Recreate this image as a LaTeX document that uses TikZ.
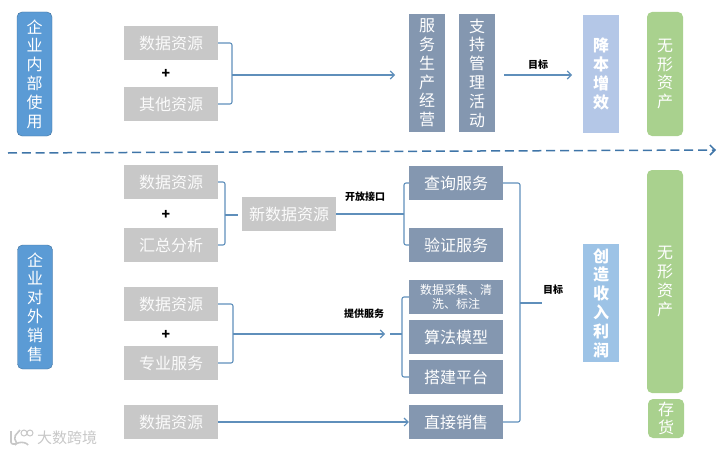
\documentclass[tikz,border=0pt]{standalone}
\usepackage{fontspec}
\setmainfont{Noto Sans CJK SC}
\usetikzlibrary{arrows.meta}
\definecolor{linkblue}{HTML}{5F8FBB}
\definecolor{dashblue}{HTML}{3F75A8}
\definecolor{srcgray}{HTML}{C8C8C8}
\definecolor{svcslate}{HTML}{8497B0}
\definecolor{sideblue}{HTML}{5B9BD5}
\definecolor{sideedge}{HTML}{41719C}
\definecolor{assetgreen}{HTML}{A9D18E}
\definecolor{goalpale}{HTML}{B4C7E7}
\definecolor{goalblue}{HTML}{9DC3E6}
\tikzset{
	bigtext/.style={font=\fontsize{16}{18.8}\selectfont, text=white, align=center, inner sep=0pt},
	srcbox/.style={bigtext, fill=srcgray, text=white!93!srcgray, minimum width=94pt, minimum height=34pt},
	svcbox/.style={bigtext, fill=svcslate, minimum width=94pt, minimum height=34pt},
	tallbox/.style={bigtext, fill=svcslate, minimum width=36pt, minimum height=118pt},
	sidebox/.style={bigtext, fill=sideblue, draw=sideedge, rounded corners=5pt, minimum width=35pt, minimum height=124pt},
	assetbox/.style={bigtext, fill=assetgreen, rounded corners=5pt, minimum width=36pt},
	goalbox/.style={bigtext, font=\fontsize{16}{18.8}\selectfont\bfseries, minimum width=36pt, minimum height=118pt},
	link/.style={draw=linkblue, line width=1.1pt, rounded corners=2pt},
	linkarrow/.style={link, -{Straight Barb[length=4pt,width=8pt]}},
	tag/.style={font=\fontsize{10}{12}\selectfont\bfseries, text=black, inner sep=0pt},
	plus/.style={font=\fontsize{14}{14}\selectfont\bfseries, text=black, inner sep=0pt}
}
\begin{document}
\begin{tikzpicture}[x=1pt,y=-1pt]
	\useasboundingbox (0,0) rectangle (727,452);

	%left labels
	\node[sidebox](inner) at (34.5,74) {企\\业\\内\\部\\使\\用};
	\node[sidebox](outer) at (35,307) {企\\业\\对\\外\\销\\售};

	%internal use
	\node[srcbox](datatop) at (171,43) {数据资源};
	\node[srcbox](othertop) at (171,104) {其他资源};
	\node[plus](plustop) at (166,74) {+};
	\node[tallbox](produce) at (427,73) {服\\务\\生\\产\\经\\营};
	\node[tallbox](support) at (477,73) {支\\持\\管\\理\\活\\动};
	\node[goalbox, fill=goalpale](saving) at (601,74) {降\\本\\增\\效};
	\node[assetbox, minimum height=124pt](assettop) at (665,74) {无\\形\\资\\产};
	\node[tag](goaltop) at (538,65) {目标};

	\coordinate (jointop) at (232,75);
	\coordinate (endtop) at (395,75);
	\coordinate (goalstart) at (504,75);
	\coordinate (goalend) at (572,75);
	\draw[link] (datatop.east) -| (jointop) |- (othertop.east);
	\draw[linkarrow] (jointop) -- (endtop);
	\draw[linkarrow] (goalstart) -- (goalend);

	%divider
	\coordinate (divleft) at (8,153);
	\coordinate (divright) at (716,150);
	\draw[draw=dashblue, line width=1.5pt, dash pattern=on 9pt off 4.8pt, -{Straight Barb[length=5pt,width=10pt]}] (divleft) -- (divright);

	%external sales, sources
	\node[srcbox](dataone) at (171,182) {数据资源};
	\node[srcbox](summary) at (171,245) {汇总分析};
	\node[plus](plusone) at (166,215) {+};
	\node[srcbox](newdata) at (289,214) {新数据资源};
	\node[srcbox](datatwo) at (171,304) {数据资源};
	\node[srcbox](expert) at (171,363) {专业服务};
	\node[plus](plustwo) at (166,335) {+};
	\node[srcbox](datathree) at (171,422) {数据资源};

	%external sales, services
	\node[svcbox](query) at (456,183) {查询服务};
	\node[svcbox](verify) at (456,245) {验证服务};
	\node[svcbox, font=\fontsize{12}{13.5}\selectfont](collect) at (456,297) {数据采集、清\\洗、标注};
	\node[svcbox](model) at (456,337) {算法模型};
	\node[svcbox](platform) at (456,377) {搭建平台};
	\node[svcbox](direct) at (456,422) {直接销售};

	%external sales, goal and assets
	\node[goalbox, fill=goalblue](profit) at (601,303) {创\\造\\收\\入\\利\\润};
	\node[assetbox, minimum height=223pt](assetlong) at (665,281.5) {无\\形\\资\\产};
	\node[assetbox, minimum height=39pt](stock) at (666,418.5) {存\\货};

	\node[tag](openapi) at (365,197) {开放接口};
	\node[tag](provide) at (364,314) {提供服务};
	\node[tag](goallow) at (553,290) {目标};

	%first branch
	\coordinate (joinone) at (225,215);
	\coordinate (joinoneend) at (238,215);
	\coordinate (joinapi) at (404,214);
	\coordinate (joinapistart) at (391,214);
	\draw[link] (dataone.east) -| (joinone) |- (summary.east);
	\draw[link] (joinone) -- (joinoneend);
	\draw[link] (newdata.east) -- (joinapi);
	\draw[link] (query.west) -| (joinapi) |- (verify.west);

	%second branch
	\coordinate (jointwo) at (233,334);
	\coordinate (jointwoend) at (385,334);
	\coordinate (joinsvc) at (402,334);
	\coordinate (joinsvcstart) at (390,334);
	\draw[link] (datatwo.east) -| (jointwo) |- (expert.east);
	\draw[linkarrow] (jointwo) -- (jointwoend);
	\draw[link] (joinsvcstart) -- (joinsvc);
	\draw[link] (collect.west) -| (joinsvc) |- (platform.west);

	%third branch
	\draw[linkarrow] (datathree.east) -- (direct.west);

	%goal bracket
	\coordinate (joingoal) at (520,303);
	\coordinate (joingoalend) at (542,303);
	\draw[link] (query.east) -| (joingoal) |- (direct.east);
	\draw[link] (joingoal) -- (joingoalend);

	%watermark
	\node[font=\fontsize{15}{15}\selectfont, text=black!22, inner sep=0pt](mark) at (67,438) {大数跨境};
	\coordinate (logotop) at (11,431);
	\coordinate (logobot) at (11,444);
	\draw[black!22, line width=1.6pt, rounded corners=2pt] (logotop) -- (logobot) -- (17,444) -- (14,437) -- (20,430);
	\draw[black!22, line width=1pt] (24,433) circle (3) (30,433) circle (3);
	\draw[black!22, line width=1.6pt] (15,445) arc (200:340:7 and 4);

\end{tikzpicture}
\end{document}
